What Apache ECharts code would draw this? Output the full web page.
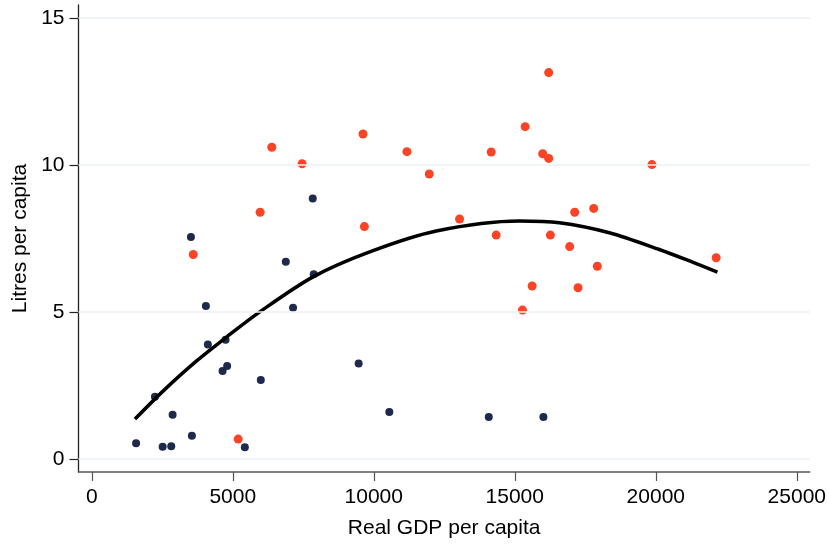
<!DOCTYPE html>
<html>
<head>
<meta charset="utf-8">
<script src="https://cdn.jsdelivr.net/npm/echarts@6/dist/echarts.min.js"></script>
<style>html,body{margin:0;padding:0;background:#fff}#c{width:829px;height:544px}</style>
</head>
<body>
<div id="c"></div>
<script>
// Group 1 (navy)
var navyX = [1572, 2241, 2514, 2819, 2867, 3516, 3551, 4047, 4118, 4638, 4744, 4801, 5428, 5994, 6880, 7138, 7836, 7871, 9464, 10551, 14078, 16015];
var navyY = [0.54, 2.12, 0.42, 0.44, 1.51, 7.56, 0.79, 5.21, 3.90, 3.00, 4.06, 3.17, 0.40, 2.69, 6.71, 5.15, 8.87, 6.29, 3.25, 1.60, 1.43, 1.43];
// Group 2 (orange)
var orangeX = [3598, 5192, 5970, 6384, 7458, 9617, 9667, 11175, 11967, 13041, 14163, 14340, 15271, 15367, 15615, 15990, 16202, 16202, 16262, 16946, 17124, 17243, 17797, 17926, 19863, 22140];
var orangeY = [6.96, 0.68, 8.40, 10.61, 10.05, 11.06, 7.91, 10.46, 9.70, 8.17, 10.45, 7.62, 5.07, 11.31, 5.89, 10.39, 13.15, 10.23, 7.62, 7.23, 8.40, 5.83, 8.53, 6.56, 10.02, 6.85];
// Quadratic fit curve
var fitX = [1533, 2536, 3717, 4897, 5959, 7847, 9855, 12215, 15165, 16581, 18352, 20122, 21302, 22186];
var fitY = [1.36, 2.32, 3.34, 4.24, 5.01, 6.20, 7.05, 7.76, 8.10, 8.04, 7.70, 7.13, 6.70, 6.36];
// Ticks
var xTicks = [0, 5000, 10000, 15000, 20000, 25000];
var yTicks = [0, 5, 10, 15];

function zip(a, b) { return a.map(function (v, i) { return [v, b[i]]; }); }

var FONT = 'Liberation Sans';
var chart = echarts.init(document.getElementById('c'), null, { renderer: 'canvas' });
chart.setOption({
  animation: false,
  backgroundColor: '#ffffff',
  textStyle: { fontFamily: FONT },
  grid: { left: 78.5, right: 18.3, top: 5, bottom: 71, containLabel: false },
  xAxis: {
    type: 'value', min: -470, max: 25460,
    name: 'Real GDP per capita', nameLocation: 'middle', nameGap: 46,
    nameTextStyle: { fontSize: 21, color: '#000', fontFamily: FONT },
    axisLine: { show: true, onZero: false, lineStyle: { color: '#555', width: 1.5 } },
    axisTick: { show: true, customValues: xTicks, length: 9, lineStyle: { color: '#555', width: 1.2 } },
    axisLabel: { customValues: xTicks, fontSize: 21, color: '#000', margin: 15, fontFamily: FONT,
      formatter: function (v) { return String(v); } },
    splitLine: { show: false }
  },
  yAxis: {
    type: 'value', min: -0.44, max: 15.45,
    name: 'Litres per capita', nameLocation: 'middle', nameGap: 47, nameRotate: 90,
    nameTextStyle: { fontSize: 21, color: '#000', fontFamily: FONT },
    axisLine: { show: true, onZero: false, lineStyle: { color: '#222', width: 1.3 } },
    axisTick: { show: true, customValues: yTicks, length: 9, lineStyle: { color: '#222', width: 1.2 } },
    axisLabel: { customValues: yTicks, fontSize: 21, color: '#000', margin: 14, fontFamily: FONT,
      formatter: function (v) { return String(v); } },
    splitLine: { show: false }
  },
  series: [
    {
      type: 'scatter', data: [], silent: true, z: 1,
      markLine: {
        silent: true, symbol: ['none', 'none'], label: { show: false },
        lineStyle: { color: '#e9f0f4', width: 1.6, type: 'solid' },
        data: yTicks.map(function (v) { return { yAxis: v }; })
      }
    },
    {
      type: 'scatter', data: zip(navyX, navyY), symbol: 'circle', symbolSize: 8, z: 3,
      itemStyle: { color: '#1e2a4b', opacity: 1 }
    },
    {
      type: 'scatter', data: zip(orangeX, orangeY), symbol: 'circle', symbolSize: 9, z: 3,
      itemStyle: { color: '#fb4325', opacity: 1 }
    },
    {
      type: 'line', data: zip(fitX, fitY), smooth: 0.3, showSymbol: false, symbol: 'none', z: 4,
      lineStyle: { color: '#000', width: 3.5 }
    }
  ]
});
</script>
</body>
</html>
